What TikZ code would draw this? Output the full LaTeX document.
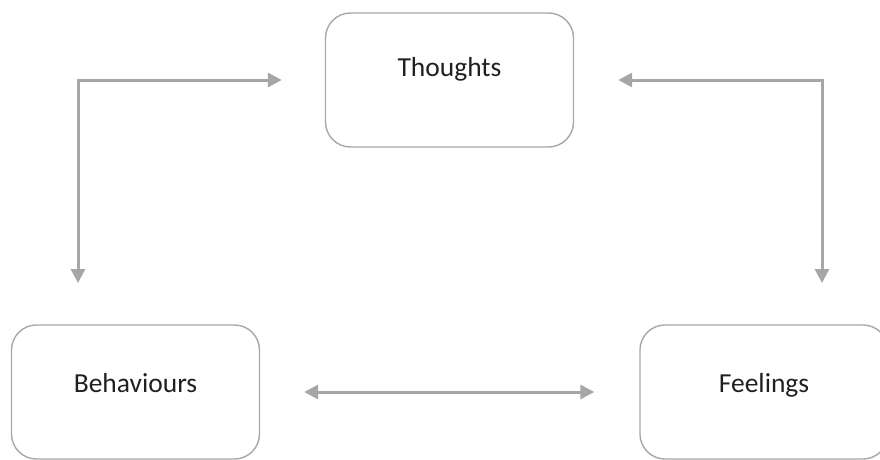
\documentclass[tikz,border=0pt]{standalone}
\usepackage{fontspec}
\setmainfont{Carlito}
\usetikzlibrary{arrows.meta}
\definecolor{linegray}{HTML}{A6A6A6}
\definecolor{boxgray}{HTML}{A8A8A8}
\definecolor{txt}{HTML}{202020}
\begin{document}
\begin{tikzpicture}[x=1pt,y=-1pt,
  box/.style={draw=boxgray, line width=1.4pt, rounded corners=25pt, fill=white,
    minimum width=248pt, minimum height=134pt, inner sep=0pt},
  lbl/.style={text=txt, font=\fontsize{27.5}{32}\selectfont, inner sep=0pt, anchor=base},
  arr/.style={draw=linegray, line width=3pt,
    {Triangle[length=14pt,width=14pt]}-{Triangle[length=14pt,width=14pt]}}]
\useasboundingbox (0,0) rectangle (880,460);
\fill[white] (0,0) rectangle (880,460);
\node[box] (t) at (449.5,80) {};
\node[box] (b) at (135.5,392) {};
\node[box] (f) at (764,392) {};
\node[lbl] (tl) at ([yshift=4pt]t.center) {Thoughts};
\node[lbl] (bl) at ([yshift=0pt]b.center) {Behaviours};
\node[lbl] (fl) at ([yshift=0pt]f.center) {Feelings};
\coordinate (la) at ([xshift=-43pt]t.west);
\coordinate (lc) at (78,80);
\coordinate (lb) at (78,283);
\coordinate (ra) at ([xshift=44pt]t.east);
\coordinate (rc) at (822,80);
\coordinate (rb) at (822,283);
\draw[arr] (la) -- (lc) -- (lb);
\draw[arr] (ra) -- (rc) -- (rb);
\draw[arr] ([xshift=44pt]b.east) -- ([xshift=-45pt]f.west);
\end{tikzpicture}
\end{document}
